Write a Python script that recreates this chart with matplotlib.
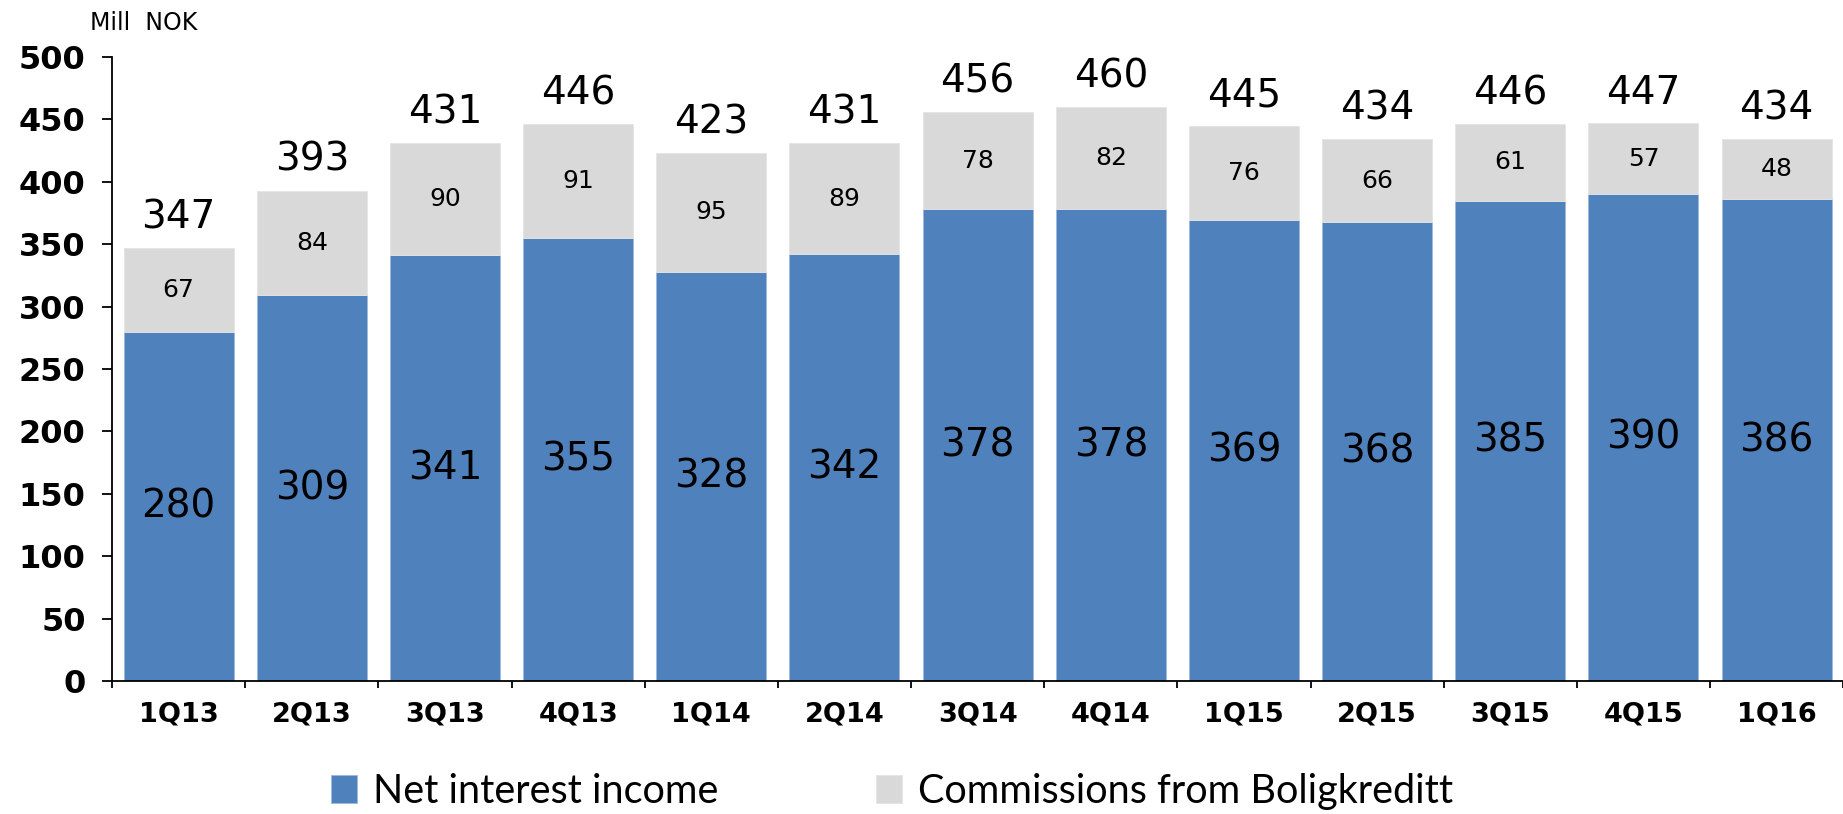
import matplotlib
matplotlib.use("Agg")
import matplotlib.pyplot as plt
import numpy as np

# Quarterly income, mill NOK
quarters = ["1Q13", "2Q13", "3Q13", "4Q13", "1Q14", "2Q14", "3Q14",
            "4Q14", "1Q15", "2Q15", "3Q15", "4Q15", "1Q16"]
net_interest = [280, 309, 341, 355, 328, 342, 378, 378, 369, 368, 385, 390, 386]
commissions = [67, 84, 90, 91, 95, 89, 78, 82, 76, 66, 61, 57, 48]
totals = [347, 393, 431, 446, 423, 431, 456, 460, 445, 434, 446, 447, 434]

blue = "#4F81BD"
grey = "#D9D9D9"

fig = plt.figure(figsize=(18.43, 8.14), dpi=100)
ax = fig.add_axes([0.0608, 0.1634, 0.9393, 0.7666])

x = np.arange(len(quarters))
w = 0.826
ax.bar(x, net_interest, w, color=blue, edgecolor="#9DB9DC", linewidth=0.6,
       label="Net interest income")
ax.bar(x, commissions, w, bottom=net_interest, color=grey, edgecolor="#E4E4E4",
       linewidth=0.6, label="Commissions from Boligkreditt")

for i in range(len(quarters)):
    ax.text(x[i], net_interest[i] / 2, str(net_interest[i]), ha="center",
            va="center", fontsize=28, color="black")
    ax.text(x[i], net_interest[i] + commissions[i] / 2, str(commissions[i]),
            ha="center", va="center", fontsize=18, color="black")
    ax.annotate(str(totals[i]), (x[i], totals[i]), xytext=(0, 22),
                textcoords="offset points", ha="center", va="center",
                fontsize=28, color="black")

ax.set_xlim(-0.5, len(quarters) - 0.5)
ax.set_ylim(0, 500)
ax.set_yticks(range(0, 501, 50))
ax.tick_params(axis="y", labelsize=23, length=7, width=1.3, pad=12)
for lbl in ax.get_yticklabels():
    lbl.set_fontweight("bold")

# quarter labels at centres, tick marks on category borders
ax.set_xticks(x)
ax.set_xticklabels(quarters, fontsize=19.5, fontweight="bold")
ax.tick_params(axis="x", which="major", length=0, pad=15)
ax.set_xticks(np.arange(-0.5, len(quarters), 1), minor=True)
ax.tick_params(axis="x", which="minor", length=5, width=1.3)

for s in ["top", "right"]:
    ax.spines[s].set_visible(False)
for s in ["left", "bottom"]:
    ax.spines[s].set_linewidth(1.3)

fig.text(0.049, 0.972, "Mill  NOK", fontsize=17, va="center", ha="left")

leg = fig.legend(loc="center", bbox_to_anchor=(0.484, 0.028), ncol=2,
                 frameon=False, handlelength=0.65, handleheight=0.7,
                 handletextpad=0.4, columnspacing=4.0,
                 prop={"family": ["Lato", "DejaVu Sans"], "size": 28.5})

fig.savefig("out.png", dpi=100)
